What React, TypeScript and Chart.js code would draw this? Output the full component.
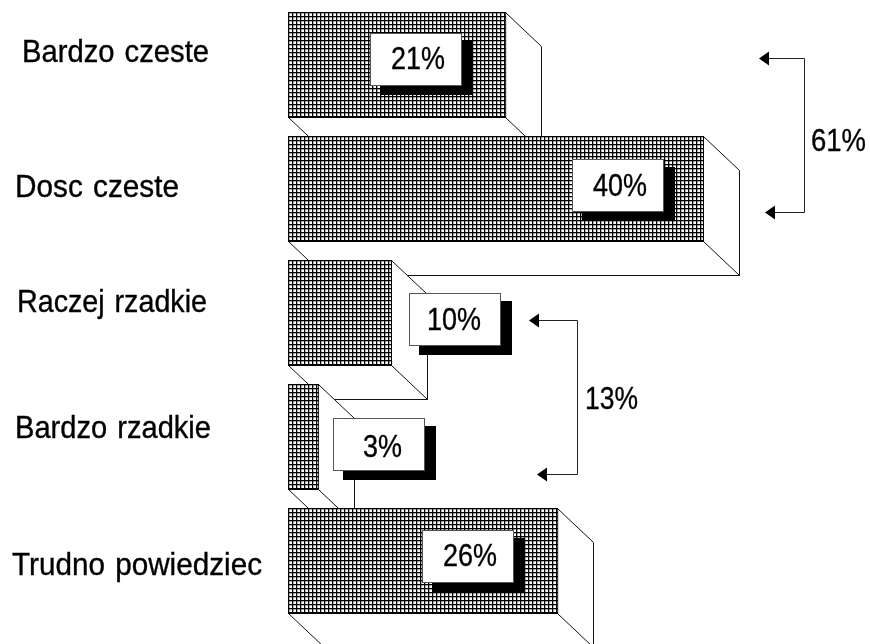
import React, { useEffect, useRef } from "react";
import { Chart, registerables } from "chart.js";

Chart.register(...registerables);

const categories = ["Bardzo czeste", "Dosc czeste", "Raczej rzadkie", "Bardzo rzadkie", "Trudno powiedziec"];
const shares = [21, 40, 10, 3, 26];
const groupLabels = ["61%", "13%"];

// layout of the annotations (pixels)
const FONT = "'Liberation Sans', Arial, sans-serif";
const DEPTH_X = 36;
const DEPTH_Y = 34;
const BOX_W = 92;
const BOX_H = 53;
const SHADOW_X = 11;
const SHADOW_Y = 9;
const catLabelX = [22, 15, 17, 15, 12];
const catLabelW = [187, 164, 190, 196, 250];
const catBaseline = [62, 197, 312, 438, 575];
const boxDx = [-136, -132, 17, 14, -136];
const boxDy = [21, 23, 33, 34, 22];
const textDx = [21, 21, 18, 30, 21];
const textDy = [36, 37, 37, 39, 36];
const brackets = [
  { tipTop: 759, tipBottom: 765, x: 804, top: 58, bottom: 212, labelX: 811, labelBase: 151, labelW: 55 },
  { tipTop: 529, tipBottom: 537, x: 577, top: 320, bottom: 474, labelX: 585, labelBase: 409, labelW: 53 },
];

function makePattern(ctx: CanvasRenderingContext2D) {
  const tile = document.createElement("canvas");
  tile.width = 4;
  tile.height = 4;
  const t = tile.getContext("2d")!;
  t.fillStyle = "#fff";
  t.fillRect(0, 0, 4, 4);
  t.fillStyle = "rgba(0,0,0,0.3)";
  t.fillRect(0, 1, 4, 1);
  t.fillRect(1, 0, 1, 4);
  t.fillStyle = "#000";
  t.fillRect(0, 0, 4, 1);
  t.fillRect(0, 0, 1, 4);
  return ctx.createPattern(tile, "repeat")!;
}

function stretchedText(ctx: CanvasRenderingContext2D, text: string, x: number, base: number, width: number, px = 30, sy = 1.03) {
  ctx.save();
  ctx.font = `${px}px ${FONT}`;
  (ctx as any).wordSpacing = "2px";
  ctx.textAlign = "left";
  ctx.textBaseline = "alphabetic";
  ctx.fillStyle = "#000";
  ctx.strokeStyle = "#000";
  ctx.lineWidth = 0.35;
  const m = ctx.measureText(text).width;
  ctx.translate(x, base);
  ctx.scale(width / m, sy);
  ctx.fillText(text, 0, 0);
  ctx.strokeText(text, 0, 0);
  ctx.restore();
}

const depthPlugin = {
  id: "depth",
  beforeDatasetsDraw(chart: any) {
    const { ctx } = chart;
    const meta = chart.getDatasetMeta(0);
    ctx.save();
    ctx.lineWidth = 1;
    ctx.strokeStyle = "#111";
    ctx.fillStyle = "#fff";
    meta.data.forEach((bar: any) => {
      const { x, y, base, height } = bar.getProps(["x", "y", "base", "height"], true);
      const top = Math.round(y - height / 2) + 0.5;
      const bot = Math.round(y + height / 2) - 0.5;
      const l = Math.round(base) + 0.5;
      const r = Math.round(x) - 0.5;
      ctx.beginPath();
      ctx.moveTo(r, top);
      ctx.lineTo(r + DEPTH_X, top + DEPTH_Y);
      ctx.lineTo(r + DEPTH_X, bot + DEPTH_Y);
      ctx.lineTo(l + DEPTH_X, bot + DEPTH_Y);
      ctx.lineTo(l, bot);
      ctx.lineTo(r, bot);
      ctx.closePath();
      ctx.fill();
      ctx.stroke();
      ctx.beginPath();
      ctx.moveTo(r, bot);
      ctx.lineTo(r + DEPTH_X, bot + DEPTH_Y);
      ctx.stroke();
    });
    ctx.restore();
  },
  afterDatasetsDraw(chart: any) {
    const { ctx } = chart;
    const meta = chart.getDatasetMeta(0);
    meta.data.forEach((bar: any, i: number) => {
      const { x, y, height } = bar.getProps(["x", "y", "height"], true);
      const bx = Math.round(x) + boxDx[i];
      const by = Math.round(y - height / 2) + boxDy[i];
      ctx.fillStyle = "#000";
      ctx.fillRect(bx + SHADOW_X - 1, by + SHADOW_Y - 1, BOX_W + 1, BOX_H + 1);
      ctx.fillStyle = "#fff";
      ctx.fillRect(bx, by, BOX_W, BOX_H);
      ctx.strokeStyle = "#555";
      ctx.lineWidth = 1;
      ctx.strokeRect(bx + 0.5, by + 0.5, BOX_W - 1, BOX_H - 1);
      const w = shares[i] < 10 ? 39 : 54;
      stretchedText(ctx, `${shares[i]}%`, bx + textDx[i], by + textDy[i], w);
      stretchedText(ctx, categories[i], catLabelX[i], catBaseline[i], catLabelW[i]);
    });
    brackets.forEach((b, i) => {
      ctx.strokeStyle = "#222";
      ctx.lineWidth = 1;
      ctx.beginPath();
      ctx.moveTo(b.tipTop + 8, b.top + 0.5);
      ctx.lineTo(b.x + 0.5, b.top + 0.5);
      ctx.lineTo(b.x + 0.5, b.bottom + 0.5);
      ctx.lineTo(b.tipBottom + 8, b.bottom + 0.5);
      ctx.stroke();
      ctx.fillStyle = "#000";
      [[b.tipTop, b.top], [b.tipBottom, b.bottom]].forEach(([tx, ty]) => {
        ctx.beginPath();
        ctx.moveTo(tx, ty + 0.5);
        ctx.lineTo(tx + 10, ty - 6.5);
        ctx.lineTo(tx + 10, ty + 7.5);
        ctx.closePath();
        ctx.fill();
      });
      stretchedText(ctx, groupLabels[i], b.labelX, b.labelBase, b.labelW);
    });
  },
};

export default function App() {
  const ref = useRef<HTMLCanvasElement>(null);
  useEffect(() => {
    const canvas = ref.current!;
    const ctx = canvas.getContext("2d")!;
    const chart = new Chart(canvas, {
      type: "bar",
      data: {
        labels: categories,
        datasets: [
          {
            data: shares,
            backgroundColor: makePattern(ctx) as any,
            borderColor: "#000",
            borderWidth: 1,
            barPercentage: 106 / 124,
            categoryPercentage: 1,
          },
        ],
      },
      options: {
        indexAxis: "y",
        animation: false,
        responsive: false,
        devicePixelRatio: 1,
        layout: { padding: { left: 288, right: 10, top: 3, bottom: 21 } },
        plugins: { legend: { display: false }, tooltip: { enabled: false } },
        scales: {
          x: { display: false, min: 0, max: 55 },
          y: { display: false },
        },
      },
      plugins: [depthPlugin],
    } as any);
    return () => chart.destroy();
  }, []);
  return (
    <canvas
      ref={ref}
      width={870}
      height={644}
      style={{ position: "absolute", left: 0, top: 0, width: 870, height: 644, background: "#fff" }}
    />
  );
}
